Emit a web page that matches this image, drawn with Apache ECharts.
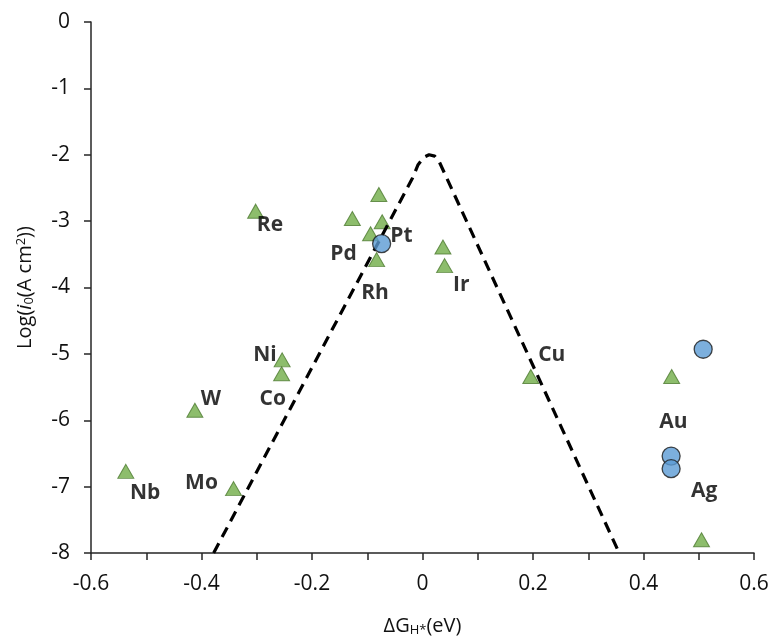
<!DOCTYPE html>
<html>
<head>
<meta charset="utf-8">
<script src="https://cdn.jsdelivr.net/npm/echarts@6/dist/echarts.min.js"></script>
<style>html,body{margin:0;padding:0;background:#fff}#c{width:774px;height:637px}</style>
</head>
<body>
<div id="c"></div>
<script>
// Data (x = ΔG_H* in eV, y = log i0)
var triangleX = [-0.302, -0.127, -0.079, -0.073, -0.094, -0.083, 0.037, 0.040, -0.254, -0.255, -0.412, -0.537, -0.342, 0.196, 0.451, 0.505];
var triangleY = [-2.85, -2.96, -2.60, -3.01, -3.19, -3.58, -3.39, -3.67, -5.09, -5.30, -5.85, -6.77, -7.03, -5.34, -5.34, -7.80];
var circleX = [-0.074, 0.508, 0.450, 0.450];
var circleY = [-3.34, -4.93, -6.54, -6.73];
var volcanoX = [-0.378, -0.018, -0.008, 0.002, 0.012, 0.022, 0.030, 0.356];
var volcanoY = [-8.0, -2.35, -2.15, -2.04, -2.00, -2.02, -2.10, -8.0];
var labelNames = ['Re', 'Pd', 'Pt', 'Rh', 'Ir', 'Ni', 'Co', 'W', 'Nb', 'Mo', 'Cu', 'Au', 'Ag'];
var labelX = [-0.276, -0.143, -0.038, -0.086, 0.070, -0.285, -0.271, -0.383, -0.502, -0.400, 0.234, 0.454, 0.510];
var labelY = [-3.06, -3.49, -3.23, -4.09, -3.97, -5.02, -5.68, -5.68, -7.10, -6.94, -5.02, -6.02, -7.06];
var xTicks = [-0.6, -0.4, -0.2, 0, 0.2, 0.4, 0.6];
var yTicks = [0, -1, -2, -3, -4, -5, -6, -7, -8];

function zip(a, b) { return a.map(function (v, i) { return [v, b[i]]; }); }

var FONT = '"Open Sans", "Liberation Sans", sans-serif';
var TXT = '#111';
var chart = echarts.init(document.getElementById('c'), null, {renderer: 'canvas'});
chart.setOption({
  animation: false,
  backgroundColor: '#fff',
  grid: {left: 91, right: 20, top: 22, bottom: 84, containLabel: false, outerBoundsMode: 'none'},
  xAxis: {
    type: 'value', min: -0.6, max: 0.6, interval: 0.2,
    name: '{n|ΔG}{sub|H*}{n|(eV)}', nameLocation: 'middle', nameGap: 63,
    nameTextStyle: {rich: {
      n: {fontSize: 20, fontFamily: FONT, color: TXT},
      sub: {fontSize: 13, fontFamily: FONT, color: TXT, verticalAlign: 'bottom', padding: [8, 0, 0, 0]}
    }},
    axisLine: {onZero: false, lineStyle: {color: '#262626', width: 1.5}},
    axisTick: {show: true, inside: false, length: 7, lineStyle: {color: '#262626', width: 1.5}},
    minorTick: {show: true, splitNumber: 2, length: 7, lineStyle: {color: '#262626', width: 1.5}},
    splitLine: {show: false},
    axisLabel: {fontSize: 21, fontFamily: FONT, color: TXT, margin: 21,
      formatter: function (v) { var r = Math.round(v * 10) / 10; return xTicks.indexOf(r) >= 0 ? String(r) : ''; }}
  },
  yAxis: {
    type: 'value', min: -8, max: 0, interval: 1,
    name: '{n|Log(}{i|i}{sub|0}{n|(A cm}{sup|2}{n|))}', nameLocation: 'middle', nameGap: 55, nameRotate: 90,
    nameTextStyle: {rich: {
      n: {fontSize: 20, fontFamily: FONT, color: TXT},
      i: {fontSize: 20, fontFamily: FONT, color: TXT, fontStyle: 'italic'},
      sub: {fontSize: 13, fontFamily: FONT, color: TXT, verticalAlign: 'bottom', padding: [8, 0, 0, 0]},
      sup: {fontSize: 13, fontFamily: FONT, color: TXT, verticalAlign: 'top', padding: [0, 0, 8, 0]}
    }},
    axisLine: {onZero: false, lineStyle: {color: '#262626', width: 1.5}},
    axisTick: {show: true, inside: false, length: 7, lineStyle: {color: '#262626', width: 1.5}},
    splitLine: {show: false},
    axisLabel: {fontSize: 21, fontFamily: FONT, color: TXT, margin: 21,
      formatter: function (v) { return yTicks.indexOf(v) >= 0 ? String(v) : ''; }}
  },
  series: [
    {
      type: 'scatter', name: 'tri', symbol: 'triangle', symbolSize: [16, 14],
      data: zip(triangleX, triangleY), z: 2,
      itemStyle: {color: '#70AD47', borderColor: '#4E7A31', borderWidth: 1}
    },
    {
      type: 'line', name: 'volcano', data: zip(volcanoX, volcanoY), showSymbol: false, symbol: 'none',
      smooth: false, z: 3,
      lineStyle: {color: '#000', width: 3.2, type: [11, 7]}
    },
    {
      type: 'scatter', name: 'circ', symbol: 'circle', symbolSize: 18,
      data: zip(circleX, circleY), z: 4,
      itemStyle: {color: '#5B9BD5', borderColor: '#1a1a1a', borderWidth: 1.3}
    },
    {
      type: 'scatter', name: 'labels', symbolSize: 0, z: 5, silent: true,
      data: labelNames.map(function (n, i) { return {name: n, value: [labelX[i], labelY[i]]}; }),
      label: {show: true, position: 'inside', formatter: '{b}', fontSize: 21, fontWeight: 'bold',
        fontFamily: FONT, color: '#000'}
    }
  ]
});
</script>
</body>
</html>
